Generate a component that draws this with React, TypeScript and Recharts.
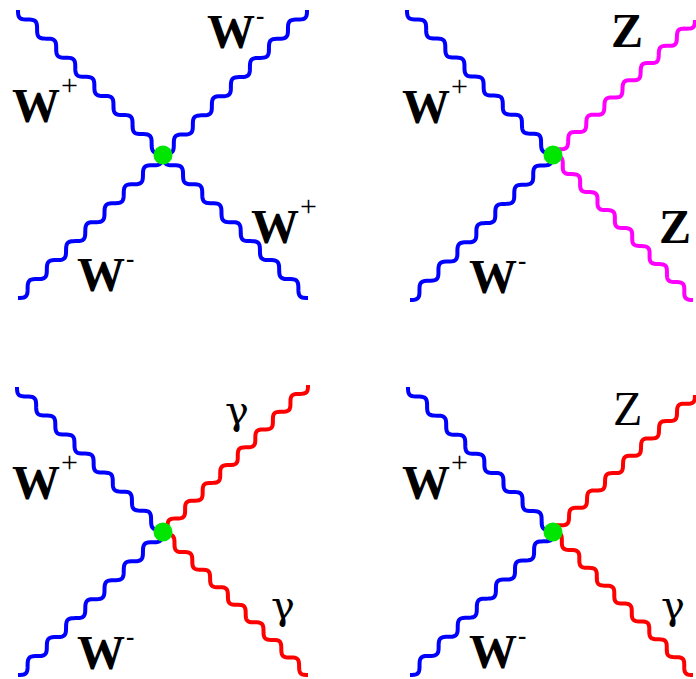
import React from 'react';
import { ComposedChart, Line, Scatter, XAxis, YAxis } from 'recharts';

// four quartic gauge vertices: WWWW, WWZZ, WWγγ, WWZγ
const vertexX = [163, 553, 163, 553];
const vertexY = [155, 155, 532, 532];

// legs in each panel: upper-left, lower-left, upper-right, lower-right
const legEndX = [
  [18, 18, 307, 308],
  [407, 410, 695, 693],
  [17, 18, 308, 308],
  [408, 410, 695, 693],
];
const legEndY = [
  [10, 298, 10, 298],
  [10, 300, 20, 300],
  [387, 675, 385, 675],
  [387, 675, 395, 675],
];
const legParticle = [
  ['W+', 'W-', 'W-', 'W+'],
  ['W+', 'W-', 'Z', 'Z'],
  ['W+', 'W-', 'γ', 'γ'],
  ['W+', 'W-', 'Z', 'γ'],
];

// label anchors (left edge, baseline), same leg order
const labelX = [
  [12, 77, 207, 251],
  [402, 469, 611, 659],
  [12, 77, 225, 271],
  [402, 469, 613, 661],
];
const labelY = [
  [122, 291, 48, 243],
  [123, 293, 47, 243],
  [499, 669, 424, 619],
  [499, 668, 425, 619],
];

const W = 696;
const H = 679;

const legColour = (panel: number, particle: string) => {
  if (particle.startsWith('W')) return '#0000ff';
  if (particle === 'Z' && panel === 1) return '#ff00ff';
  return '#ff0000';
};

// d3-style curve factory drawing a photon-like wiggle between the points
const wiggle = (sign: number, wavelength: number) => (context: any) => {
  let pts: [number, number][] = [];
  return {
    areaStart() {},
    areaEnd() {},
    lineStart() {
      pts = [];
    },
    point(x: number, y: number) {
      pts.push([x, y]);
    },
    lineEnd() {
      for (let i = 0; i < pts.length - 1; i++) {
        const [x0, y0] = pts[i];
        const [x1, y1] = pts[i + 1];
        const len = Math.hypot(x1 - x0, y1 - y0);
        if (len === 0) continue;
        const ux = (x1 - x0) / len;
        const uy = (y1 - y0) / len;
        const nx = -uy * sign;
        const ny = ux * sign;
        const amp = wavelength / (2 * Math.PI);
        const steps = Math.ceil(len / 1.5);
        for (let s = 0; s <= steps; s++) {
          const t = (len * s) / steps;
          const off = amp * Math.sin((2 * Math.PI * t) / wavelength);
          const px = x0 + ux * t + nx * off;
          const py = y0 + uy * t + ny * off;
          if (i === 0 && s === 0) context.moveTo(px, py);
          else context.lineTo(px, py);
        }
      }
    },
  };
};

const legs = vertexX.flatMap((vx, p) =>
  legEndX[p].map((ex, k) => ({
    key: `leg-${p}-${k}`,
    panel: p,
    side: k < 2 ? 1 : -1,
    particle: legParticle[p][k],
    data: [
      { x: ex, y: legEndY[p][k] },
      { x: vx, y: vertexY[p] },
    ],
  }))
);

const vertices = vertexX.map((x, p) => ({ x, y: vertexY[p] }));

const labels = labelX.flatMap((row, p) =>
  row.map((x, k) => ({ x, y: labelY[p][k], particle: legParticle[p][k], panel: p }))
);

const VertexDot = (props: any) => (
  <circle cx={props.cx} cy={props.cy} r={9.5} fill="#00e600" />
);

const ParticleLabel = (props: any) => {
  const { cx, cy, payload } = props;
  const name: string = payload.particle;
  const serif = '"Liberation Serif", "Times New Roman", serif';
  if (name === 'γ') {
    return (
      <text x={cx} y={cy} fontFamily='"DejaVu Serif", serif' fontSize={40} fill="#000">
        γ
      </text>
    );
  }
  const bold = !(name === 'Z' && payload.panel === 3);
  const sup = name.length > 1 ? name.slice(1) : '';
  return (
    <text x={cx} y={cy} fontFamily={serif} fontWeight={bold ? 'bold' : 'normal'} fontSize={48} fill="#000">
      <tspan>{name[0]}</tspan>
      {sup === '+' && (
        <tspan dy={-27} dx={1} fontSize={30} fontWeight="normal">
          +
        </tspan>
      )}
      {sup === '-' && (
        <tspan dy={-24} dx={1} fontSize={25} fontWeight="bold">
          -
        </tspan>
      )}
    </text>
  );
};

export default function App() {
  return (
    <div style={{ position: 'absolute', left: 0, top: 0, width: W, height: H, background: '#fff' }}>
      <ComposedChart width={W} height={H} margin={{ top: 0, right: 0, bottom: 0, left: 0 }}>
        <XAxis type="number" dataKey="x" domain={[0, W]} allowDataOverflow hide />
        <YAxis type="number" dataKey="y" domain={[0, H]} reversed allowDataOverflow hide />
        {legs.map((leg) => (
          <Line
            key={leg.key}
            data={leg.data}
            dataKey="y"
            type={wiggle(leg.side, leg.particle.startsWith('W') ? 27 : 25) as any}
            stroke={legColour(leg.panel, leg.particle)}
            strokeWidth={4}
            dot={false}
            activeDot={false}
            isAnimationActive={false}
          />
        ))}
        <Scatter data={vertices} dataKey="y" shape={<VertexDot />} isAnimationActive={false} />
        <Scatter data={labels} dataKey="y" shape={<ParticleLabel />} isAnimationActive={false} />
      </ComposedChart>
    </div>
  );
}
